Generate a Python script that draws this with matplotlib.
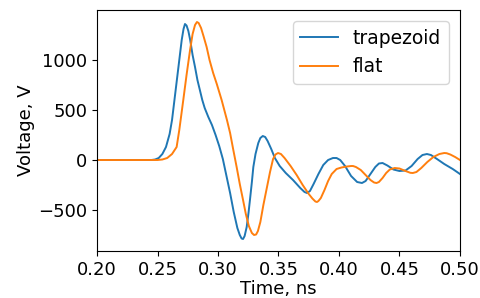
import matplotlib
matplotlib.use('Agg')
import matplotlib.pyplot as plt

# trapezoid pulse
t_trap = [0.200, 0.245, 0.248, 0.251, 0.254, 0.257, 0.260, 0.262, 0.264, 0.266,
          0.268, 0.270, 0.2715, 0.2727, 0.274, 0.2755, 0.277, 0.279, 0.281, 0.283,
          0.285, 0.287, 0.289, 0.292, 0.295, 0.298, 0.301, 0.304, 0.307, 0.310,
          0.313, 0.316, 0.318, 0.3195, 0.3207, 0.322, 0.3237, 0.3252, 0.3264, 0.328,
          0.3292, 0.331, 0.3333, 0.335, 0.337, 0.339, 0.341, 0.344, 0.347, 0.351,
          0.356, 0.362, 0.368, 0.3715, 0.3736, 0.376, 0.379, 0.383, 0.387, 0.391,
          0.395, 0.398, 0.401, 0.405, 0.410, 0.415, 0.419, 0.422, 0.426, 0.430,
          0.433, 0.436, 0.440, 0.445, 0.450, 0.455, 0.460, 0.465, 0.469, 0.4727,
          0.476, 0.481, 0.487, 0.494, 0.500]
v_trap = [0, 0, 5, 20, 60, 130, 260, 400, 600, 800,
          1000, 1200, 1310, 1360, 1345, 1290, 1200, 1050, 930, 800,
          700, 600, 520, 430, 350, 250, 140, 10, -160, -330,
          -520, -680, -750, -785, -790, -760, -670, -530, -400, -220,
          -70, 60, 170, 220, 240, 230, 190, 110, 20, -60,
          -130, -200, -280, -320, -330, -310, -240, -140, -50, 0,
          20, 20, 0, -60, -160, -220, -230, -210, -140, -70,
          -35, -30, -55, -95, -110, -105, -60, 10, 50, 60,
          50, 10, -40, -90, -140]

# flat pulse
t_flat = [0.200, 0.250, 0.254, 0.258, 0.262, 0.2658, 0.268, 0.2713, 0.274, 0.2769,
          0.279, 0.281, 0.2826, 0.284, 0.286, 0.288, 0.2906, 0.293, 0.296, 0.299,
          0.303, 0.3074, 0.310, 0.3125, 0.3154, 0.318, 0.3207, 0.323, 0.3255, 0.328,
          0.3298, 0.3315, 0.333, 0.335, 0.3375, 0.3405, 0.343, 0.3455, 0.3475, 0.3496,
          0.352, 0.355, 0.360, 0.365, 0.370, 0.375, 0.378, 0.3805, 0.3818, 0.383,
          0.385, 0.388, 0.391, 0.394, 0.398, 0.402, 0.4065, 0.410, 0.4116, 0.414,
          0.418, 0.422, 0.426, 0.429, 0.431, 0.433, 0.436, 0.439, 0.442, 0.446,
          0.450, 0.455, 0.459, 0.461, 0.464, 0.468, 0.473, 0.478, 0.483, 0.487,
          0.489, 0.492, 0.496, 0.500]
v_flat = [0, 0, 5, 20, 60, 130, 300, 600, 850, 1100,
          1260, 1350, 1380, 1370, 1320, 1240, 1130, 1000, 870, 760,
          600, 400, 270, 110, -70, -240, -400, -540, -660, -730,
          -750, -745, -710, -620, -450, -270, -120, 10, 55, 70,
          60, 20, -60, -150, -250, -340, -385, -415, -420, -410,
          -380, -300, -210, -140, -90, -75, -65, -60, -60, -70,
          -100, -150, -200, -225, -230, -220, -180, -130, -95, -80,
          -85, -110, -128, -130, -120, -80, -20, 30, 60, 70,
          68, 55, 30, 0]

plt.rcParams['font.size'] = 13

fig = plt.figure(figsize=(4.81, 2.98), dpi=100)
ax = fig.add_axes([0.2017, 0.1577, 0.7546, 0.8087])
ax.plot(t_trap, v_trap, color='#1f77b4', lw=1.4, label='trapezoid')
ax.plot(t_flat, v_flat, color='#ff7f0e', lw=1.4, label='flat')
ax.set_xlim(0.2, 0.5)
ax.set_ylim(-910, 1500)
ax.set_xticks([0.20, 0.25, 0.30, 0.35, 0.40, 0.45, 0.50])
ax.set_xticklabels(['0.20', '0.25', '0.30', '0.35', '0.40', '0.45', '0.50'])
ax.set_yticks([-500, 0, 500, 1000])
ax.set_xlabel('Time, ns', labelpad=1)
ax.set_ylabel('Voltage, V', labelpad=2)
ax.legend(loc='upper right', fontsize=13.5, borderaxespad=0.6)

fig.savefig('out.png', dpi=100)
